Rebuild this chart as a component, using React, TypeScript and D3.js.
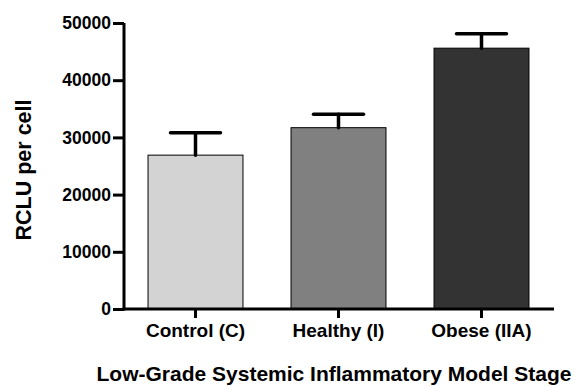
import React, { useRef, useEffect } from 'react';
import * as d3 from 'd3';

const categories = ['Control (C)', 'Healthy (I)', 'Obese (IIA)'];
const means = [26900, 31700, 45600];
const errors = [3900, 2350, 2500];
const barColors = ['#d3d3d3', '#808080', '#333333'];
const yTicks = [0, 10000, 20000, 30000, 40000, 50000];

const W = 584;
const H = 386;

const App = () => {
  const svgRef = useRef<SVGSVGElement>(null);

  useEffect(() => {
    const svg = d3.select(svgRef.current);
    svg.selectAll('*').remove();

    const font = 'Arial, "Liberation Sans", sans-serif';

    // scales
    const x = d3.scaleBand<string>()
      .domain(categories)
      .range([124, 553])
      .paddingInner(0.336)
      .paddingOuter(0.168);

    const y = d3.scaleLinear()
      .domain([0, 50000])
      .range([309, 23]);

    const data = categories.map((c, i) => ({ c, mean: means[i], err: errors[i], color: barColors[i] }));

    // bars
    svg.append('g')
      .selectAll('rect')
      .data(data)
      .enter()
      .append('rect')
      .attr('x', d => x(d.c)!)
      .attr('y', d => y(d.mean))
      .attr('width', x.bandwidth())
      .attr('height', d => y(0) - y(d.mean))
      .attr('fill', d => d.color)
      .attr('stroke', '#000')
      .attr('stroke-width', 1);

    // error bars (upper only)
    const capHalf = 25;
    const eb = svg.append('g')
      .attr('stroke', '#000')
      .attr('stroke-width', 3.5)
      .attr('stroke-linecap', 'round');
    data.forEach(d => {
      const cx = x(d.c)! + x.bandwidth() / 2;
      eb.append('line')
        .attr('x1', cx).attr('x2', cx)
        .attr('y1', y(d.mean)).attr('y2', y(d.mean + d.err));
      eb.append('line')
        .attr('x1', cx - capHalf).attr('x2', cx + capHalf)
        .attr('y1', y(d.mean + d.err)).attr('y2', y(d.mean + d.err));
    });

    // y axis
    const yAxis = svg.append('g')
      .attr('transform', 'translate(124,0)')
      .call(d3.axisLeft(y).tickValues(yTicks).tickFormat(d3.format('d')).tickSize(11).tickPadding(2));
    yAxis.select('.domain').attr('stroke-width', 3).attr('d', `M0,${y(50000)}V${y(0) + 1.5}`);
    yAxis.selectAll('.tick line').attr('stroke-width', 3);
    yAxis.selectAll('.tick text')
      .attr('font-family', font)
      .attr('font-weight', 'bold')
      .attr('font-size', 17.5)
      .attr('fill', '#000');

    // x axis
    const xAxis = svg.append('g')
      .attr('transform', `translate(0,${y(0)})`)
      .call(d3.axisBottom(x).tickSize(9).tickPadding(6));
    xAxis.select('.domain').attr('stroke-width', 3).attr('d', `M122.5,0H554`);
    xAxis.selectAll('.tick line').attr('stroke-width', 3);
    xAxis.selectAll('.tick text')
      .attr('font-family', font)
      .attr('font-weight', 'bold')
      .attr('font-size', 19)
      .attr('fill', '#000');

    // axis titles
    svg.append('text')
      .attr('x', 334)
      .attr('y', 381)
      .attr('text-anchor', 'middle')
      .attr('font-family', font)
      .attr('font-weight', 'bold')
      .attr('font-size', 21)
      .text('Low-Grade Systemic Inflammatory Model Stage');

    svg.append('text')
      .attr('transform', 'translate(31,170) rotate(-90)')
      .attr('text-anchor', 'middle')
      .attr('font-family', font)
      .attr('font-weight', 'bold')
      .attr('font-size', 21.5)
      .text('RCLU per cell');
  }, []);

  return (
    <svg
      ref={svgRef}
      width={W}
      height={H}
      style={{ position: 'absolute', left: 0, top: 0, background: '#fff' }}
    />
  );
};

export default App;
